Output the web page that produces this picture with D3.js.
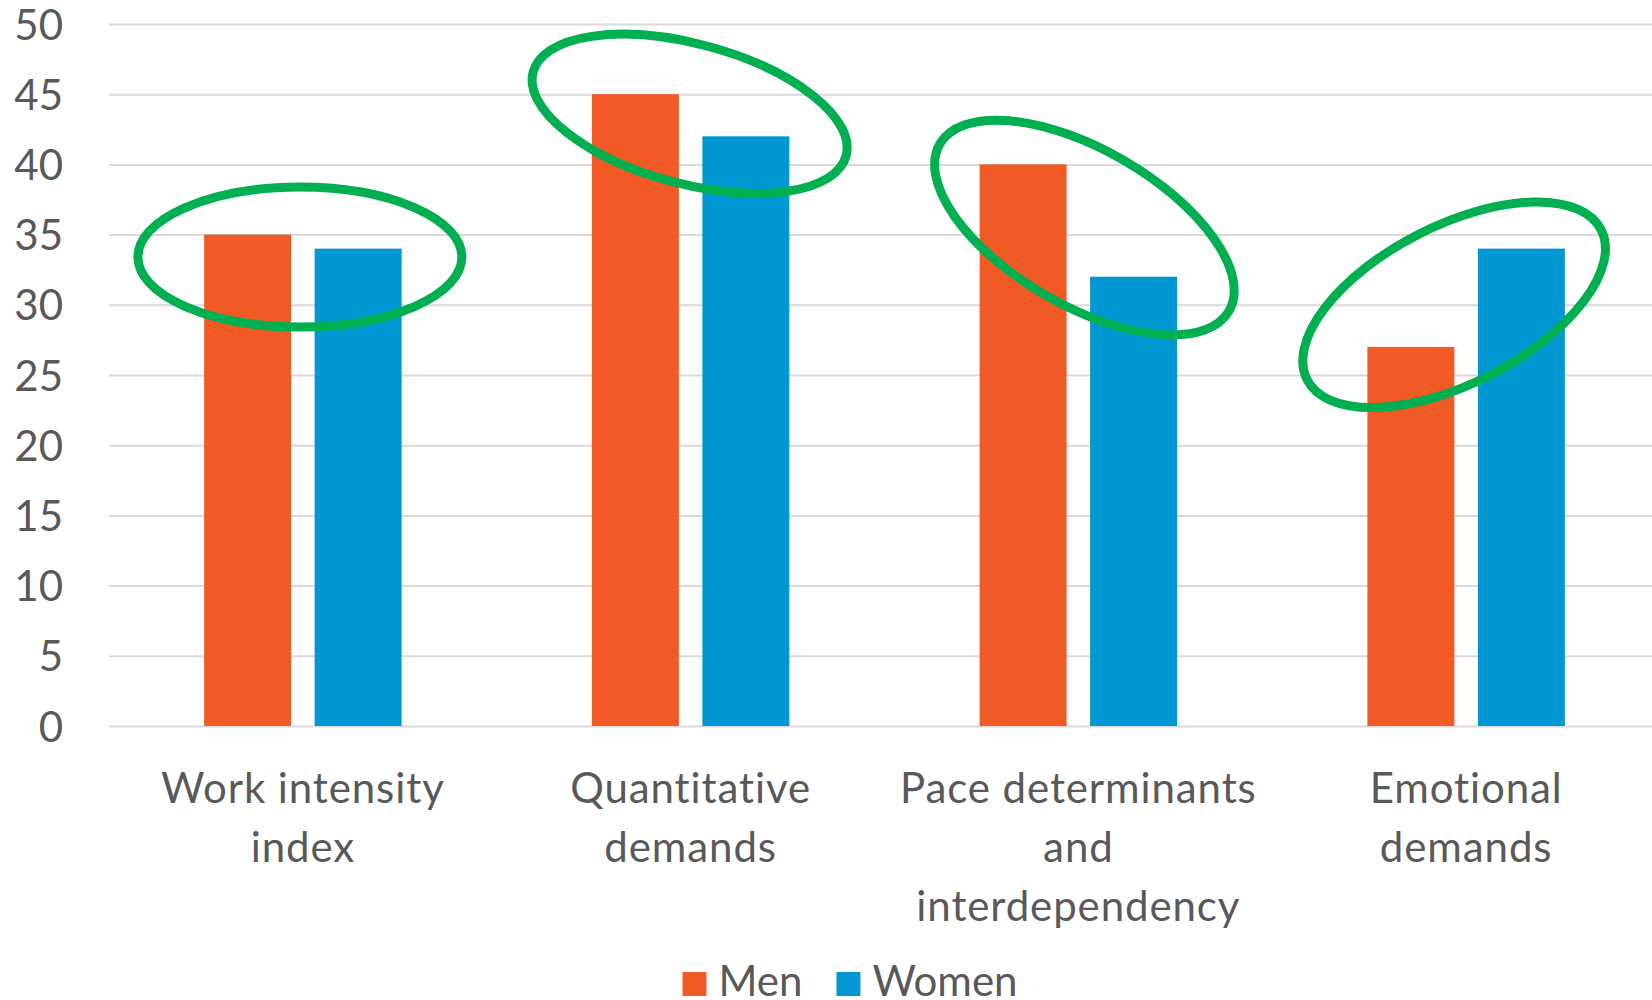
<!DOCTYPE html>
<html>
<head>
<meta charset="utf-8">
<script src="https://cdn.jsdelivr.net/npm/d3@7"></script>
<style>
  body { margin: 0; background: #fff; }
  svg { display: block; }
  text { font-family: Lato, Carlito, "Liberation Sans", sans-serif; fill: #595959; }
</style>
</head>
<body>
<svg id="chart" width="1652" height="1000"></svg>
<script>
// Job-demand indicators by sex
const categories = ["Work intensity index", "Quantitative demands", "Pace determinants and interdependency", "Emotional demands"];
// how each category name breaks onto lines under the axis
const categoryLines = [
  ["Work intensity", "index"],
  ["Quantitative", "demands"],
  ["Pace determinants", "and", "interdependency"],
  ["Emotional", "demands"]
];
const seriesNames = ["Men", "Women"];
const menValues = [35, 45, 40, 27];
const womenValues = [34, 42, 32, 34];
const yTicks = [0, 5, 10, 15, 20, 25, 30, 35, 40, 45, 50];
// level (in axis units) at which each highlight ring is centred
const ringLevels = [33.4, 43.6, 35.5, 30.0];

const W = 1652, H = 1000;
const margin = { left: 109, right: -8, top: 24, bottom: 274 };
const colors = { Men: "#F15A24", Women: "#0097D2" };
const ringColor = "#00B050";

const svg = d3.select("#chart");

const y = d3.scaleLinear().domain([0, 50]).range([H - margin.bottom, margin.top]);
const x0 = d3.scaleBand().domain(categories).range([margin.left, W - margin.right]).padding(0);
const step = x0.bandwidth();
const barW = 87, barGap = 23.5;
const groupW = barW * 2 + barGap;
const x1 = d3.scaleBand().domain(seriesNames)
  .range([(step - groupW) / 2, (step + groupW) / 2])
  .paddingInner(barGap / (barW + barGap)).paddingOuter(0);

const rows = categories.map((c, i) => ({ cat: c, Men: menValues[i], Women: womenValues[i] }));

// gridlines + y tick labels
const yAxis = d3.axisLeft(y).tickValues(yTicks).tickSize(-(W - margin.right - margin.left)).tickPadding(0);
const gy = svg.append("g").attr("transform", `translate(${margin.left},0)`).call(yAxis);
gy.select(".domain").remove();
gy.selectAll(".tick line").attr("stroke", "#D9D9D9").attr("stroke-width", 2);
gy.selectAll(".tick text")
  .attr("x", -46).attr("dy", "0.36em")
  .style("font-size", "42px")
  .attr("fill", "#595959").attr("text-anchor", "end");

// bars
const groups = svg.append("g").selectAll("g").data(rows).join("g")
  .attr("transform", d => `translate(${x0(d.cat)},0)`);
groups.selectAll("rect")
  .data(d => seriesNames.map(s => ({ s, v: d[s] })))
  .join("rect")
  .attr("x", d => x1(d.s))
  .attr("width", x1.bandwidth())
  .attr("y", d => y(d.v))
  .attr("height", d => y(0) - y(d.v))
  .attr("fill", d => colors[d.s]);

// category labels
const lineH = 59, firstBaseline = 803;
svg.append("g").selectAll("text")
  .data(categories.map((c, i) => ({ c, lines: categoryLines[i] })))
  .join("text")
  .attr("text-anchor", "middle")
  .style("font-size", "42px").style("letter-spacing", "0.9px")
  .each(function (d) {
    const cx = x0(d.c) + step / 2;
    d3.select(this).selectAll("tspan").data(d.lines).join("tspan")
      .attr("x", cx)
      .attr("y", (ln, k) => firstBaseline + k * lineH)
      .text(ln => ln);
  });

// highlight rings
const ringShapes = [
  { dx: -3, rx: 162, ry: 70, angle: 0 },
  { dx: -1, rx: 162, ry: 70, angle: 15 },
  { dx: 6, rx: 167, ry: 78, angle: 30 },
  { dx: -12, rx: 165, ry: 79, angle: -27 }
];
svg.append("g").selectAll("ellipse")
  .data(categories.map((c, i) => ({ c, level: ringLevels[i], shape: ringShapes[i] })))
  .join("ellipse")
  .attr("cx", 0).attr("cy", 0)
  .attr("rx", d => d.shape.rx).attr("ry", d => d.shape.ry)
  .attr("transform", d => `translate(${x0(d.c) + step / 2 + d.shape.dx},${y(d.level)}) rotate(${d.shape.angle})`)
  .attr("fill", "none").attr("stroke", ringColor).attr("stroke-width", 9);

// legend
const legend = svg.append("g");
let lx = 0;
seriesNames.forEach(s => {
  const item = legend.append("g").attr("transform", `translate(${lx},0)`);
  item.append("rect").attr("x", 0).attr("y", -24).attr("width", 24).attr("height", 24).attr("fill", colors[s]);
  const tx = item.append("text").attr("x", 36).attr("y", 0).style("font-size", "42px").text(s);
  lx += 36 + tx.node().getComputedTextLength() + 34;
});
const legendW = lx - 34;
legend.attr("transform", `translate(${850 - legendW / 2},996)`);
</script>
</body>
</html>
